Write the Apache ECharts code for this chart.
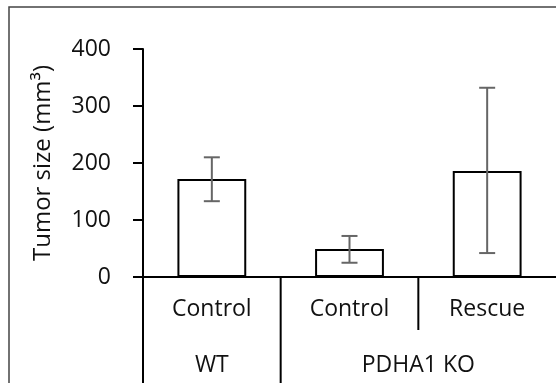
<!DOCTYPE html>
<html>
<head>
<meta charset="utf-8">
<script src="https://cdn.jsdelivr.net/npm/echarts@6/dist/echarts.min.js"></script>
<style>
  html, body { margin: 0; padding: 0; background: #fff; }
  #chart { width: 556px; height: 383px; }
</style>
</head>
<body>
<div id="chart"></div>
<script>
// values
var categories = ['Control', 'Control', 'Rescue'];
var groups = ['WT', 'PDHA1 KO', 'PDHA1 KO'];
var means = [172, 49, 186];
var upper = [210, 72, 332];
var lower = [133, 25, 42];
var yTicks = [0, 100, 200, 300, 400];

var FONT = '"Open Sans", sans-serif';
var TEXT = '#111';

// group spans built from the groups list
var spans = [];
groups.forEach(function (g, i) {
  var last = spans[spans.length - 1];
  if (last && last[2] === g) {
    last[1] = i;
  } else {
    spans.push([i, i, g]);
  }
});

var chart = echarts.init(document.getElementById('chart'));

chart.setOption({
  animation: false,
  graphic: [{
    type: 'rect',
    shape: { x: 9, y: 7, width: 600, height: 420 },
    style: { fill: 'none', stroke: '#444', lineWidth: 1.5 },
    silent: true
  }],
  grid: { left: 143, top: 49, height: 228, width: 417 },
  xAxis: {
    type: 'category',
    data: categories,
    axisLine: { lineStyle: { color: '#000', width: 2 } },
    axisTick: { show: false },
    axisLabel: { margin: 21, fontFamily: FONT, fontSize: 23, color: TEXT }
  },
  yAxis: {
    type: 'value',
    min: yTicks[0],
    max: yTicks[yTicks.length - 1],
    interval: 100,
    name: 'Tumor size (mm³)',
    nameLocation: 'middle',
    nameGap: 88,
    nameTextStyle: { fontFamily: FONT, fontSize: 24, color: TEXT },
    axisLine: { show: true, lineStyle: { color: '#000', width: 2 } },
    axisTick: { show: true, length: 10, lineStyle: { color: '#000', width: 2 } },
    axisLabel: { margin: 32, fontFamily: FONT, fontSize: 23, color: TEXT },
    splitLine: { show: false }
  },
  series: [
    {
      type: 'bar',
      data: means,
      barWidth: '50%',
      itemStyle: { color: '#fff', borderColor: '#000', borderWidth: 2 }
    },
    {
      type: 'custom',
      data: means.map(function (m, i) { return [i, lower[i], upper[i]]; }),
      z: 5,
      renderItem: function (params, api) {
        var lo = api.coord([api.value(0), api.value(1)]);
        var hi = api.coord([api.value(0), api.value(2)]);
        var w = 8;
        var st = { stroke: '#666', lineWidth: 2 };
        return {
          type: 'group',
          children: [
            { type: 'line', shape: { x1: hi[0], y1: hi[1], x2: lo[0], y2: lo[1] }, style: st },
            { type: 'line', shape: { x1: hi[0] - w, y1: hi[1], x2: hi[0] + w, y2: hi[1] }, style: st },
            { type: 'line', shape: { x1: lo[0] - w, y1: lo[1], x2: lo[0] + w, y2: lo[1] }, style: st }
          ]
        };
      }
    },
    {
      // group dividers and group labels under the axis
      type: 'custom',
      data: spans,
      clip: false,
      silent: true,
      renderItem: function (params, api) {
        var s = api.value(0), e = api.value(1);
        var band = api.size([1, 0])[0];
        var p0 = api.coord([s, 0]);
        var p1 = api.coord([e, 0]);
        var y0 = p0[1];
        var left = p0[0] - band / 2;
        var ln = { stroke: '#000', lineWidth: 2 };
        var children = [
          { type: 'line', shape: { x1: left, y1: y0, x2: left, y2: y0 + 120 }, style: ln },
          {
            type: 'text',
            style: {
              x: (p0[0] + p1[0]) / 2, y: y0 + 88,
              text: spans[params.dataIndex][2],
              align: 'center', verticalAlign: 'middle',
              font: '23px ' + FONT, fill: TEXT
            }
          }
        ];
        for (var k = s + 1; k <= e; k++) {
          var x = api.coord([k, 0])[0] - band / 2;
          children.push({ type: 'line', shape: { x1: x, y1: y0, x2: x, y2: y0 + 53 }, style: ln });
        }
        return { type: 'group', children: children };
      }
    }
  ]
});
</script>
</body>
</html>
